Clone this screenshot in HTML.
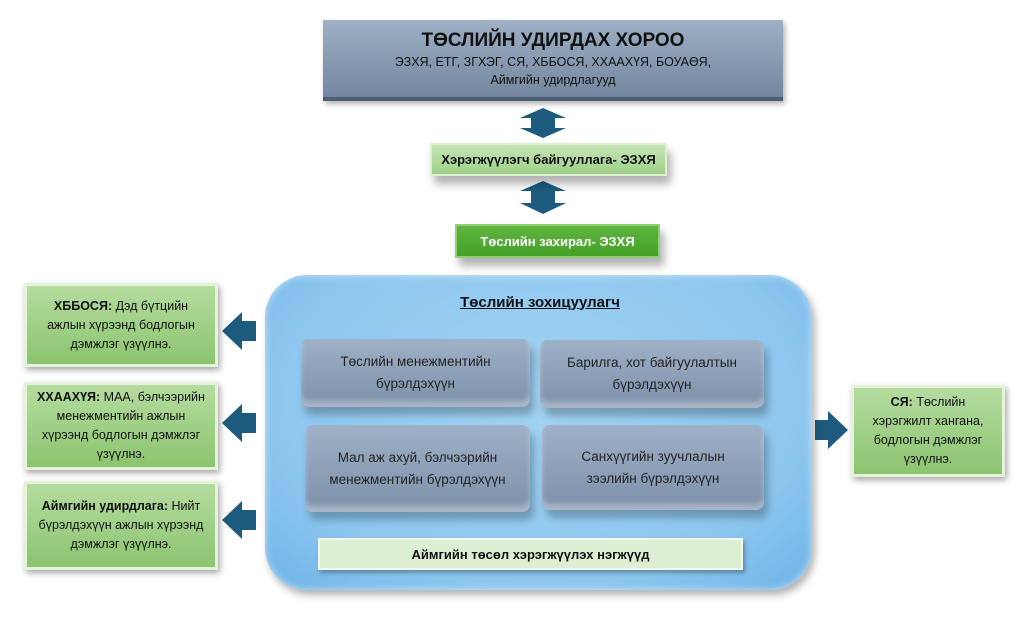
<!DOCTYPE html>
<html><head><meta charset="utf-8"><style>
body{margin:0;width:1030px;height:625px;background:#fff;position:relative;overflow:hidden;font-family:"Liberation Sans","DejaVu Sans",sans-serif;}
.a{position:absolute;box-sizing:border-box;display:flex;align-items:center;justify-content:center;text-align:center;}
.g{background:linear-gradient(#b5dca0,#8cc46f);border:3px solid #e4f3da;box-shadow:2px 3px 6px rgba(0,0,0,.35);font-size:12.5px;line-height:19px;color:#111;}
.s{background:linear-gradient(#9fb1c6,#7c90aa);box-shadow:4px 8px 8px rgba(0,0,0,.25),inset 0 -6px 6px rgba(255,255,255,.35);border-radius:8px;font-size:13.5px;line-height:22px;color:#222;}
svg{position:absolute;}
</style></head><body>
<div class="a" style="left:323px;top:20px;width:460px;height:81px;background:linear-gradient(#9eb0c4,#7387a0);border-bottom:4px solid #4d5e74;box-shadow:2px 3px 5px rgba(0,0,0,.3);flex-direction:column;color:#111;">
<div style="font-weight:bold;font-size:19px;line-height:24px">ТӨСЛИЙН УДИРДАХ ХОРОО</div>
<div style="font-size:12.5px;line-height:18px">ЭЗХЯ, ЕТГ, ЗГХЭГ, СЯ, ХББОСЯ, ХХААХҮЯ, БОУАӨЯ,<br>Аймгийн удирдлагууд</div></div>
<svg width="1030" height="625" style="left:0;top:0">
<g fill="#1d5b7e">
<polygon points="543,108 566,118 555,118 555,128 566,128 543,138 520,128 531,128 531,118 520,118"/>
<polygon points="543,181 566,191 555,191 555,203 566,203 543,214 520,203 531,203 531,191 520,191"/>
<polygon points="222,331 242,312 242,321 256,321 256,341 242,341 242,350"/>
<polygon points="222,423 242,404 242,413 256,413 256,433 242,433 242,442"/>
<polygon points="222,520 242,501 242,510 256,510 256,530 242,530 242,539"/>
<polygon points="848,430 828,411 828,420 815,420 815,440 828,440 828,449"/>
</g></svg>
<div class="a" style="left:430px;top:143px;width:237px;height:33px;background:linear-gradient(#c6e6b6,#9fd18a);border:2px solid #def0d4;box-shadow:4px 8px 8px rgba(0,0,0,.3);font-weight:bold;font-size:13px;color:#111">Хэрэгжүүлэгч байгууллага- ЭЗХЯ</div>
<div class="a" style="left:455px;top:224px;width:205px;height:34px;background:linear-gradient(#5fb53f,#44a12a);border:2px solid #8fd070;box-shadow:4px 8px 8px rgba(0,0,0,.3);font-weight:bold;font-size:13px;color:#fff">Төслийн захирал- ЭЗХЯ</div>
<div style="position:absolute;left:265px;top:275px;width:547px;height:315px;border-radius:42px;background:radial-gradient(ellipse at 50% 40%,#a3d3f3,#8cc6ef 70%,#6db2e6);box-shadow:3px 5px 8px rgba(0,0,0,.3),inset 0 0 8px rgba(255,255,255,.6)"></div>
<div class="a" style="left:420px;top:290px;width:240px;height:24px;font-weight:bold;font-size:15px;text-decoration:underline;color:#111">Төслийн зохицуулагч</div>
<div class="a s" style="left:301px;top:339px;width:229px;height:68px">Төслийн менежментийн<br>бүрэлдэхүүн</div>
<div class="a s" style="left:540px;top:340px;width:224px;height:68px">Барилга, хот байгуулалтын<br>бүрэлдэхүүн</div>
<div class="a s" style="left:305px;top:425px;width:225px;height:87px">Мал аж ахуй, бэлчээрийн<br>менежментийн бүрэлдэхүүн</div>
<div class="a s" style="left:542px;top:425px;width:222px;height:85px">Санхүүгийн зуучлалын<br>зээлийн бүрэлдэхүүн</div>
<div class="a" style="left:318px;top:538px;width:425px;height:32px;background:#dcefd2;border:2px solid #f2f9ee;box-shadow:2px 3px 4px rgba(0,0,0,.3);font-weight:bold;font-size:13px;color:#111">Аймгийн төсөл хэрэгжүүлэх нэгжүүд</div>
<div class="a g" style="left:24px;top:283px;width:194px;height:84px"><div><b>ХББОСЯ:</b> Дэд бүтцийн<br>ажлын хүрээнд бодлогын<br>дэмжлэг үзүүлнэ.</div></div>
<div class="a g" style="left:24px;top:382px;width:194px;height:88px"><div><b>ХХААХҮЯ:</b> МАА, бэлчээрийн<br>менежментийн ажлын<br>хүрээнд бодлогын дэмжлэг<br>үзүүлнэ.</div></div>
<div class="a g" style="left:24px;top:481px;width:194px;height:89px"><div><b>Аймгийн удирдлага:</b> Нийт<br>бүрэлдэхүүн ажлын хүрээнд<br>дэмжлэг үзүүлнэ.</div></div>
<div class="a g" style="left:851px;top:385px;width:154px;height:92px"><div><b>СЯ:</b> Төслийн<br>хэрэгжилт хангана,<br>бодлогын дэмжлэг<br>үзүүлнэ.</div></div>
</body></html>
